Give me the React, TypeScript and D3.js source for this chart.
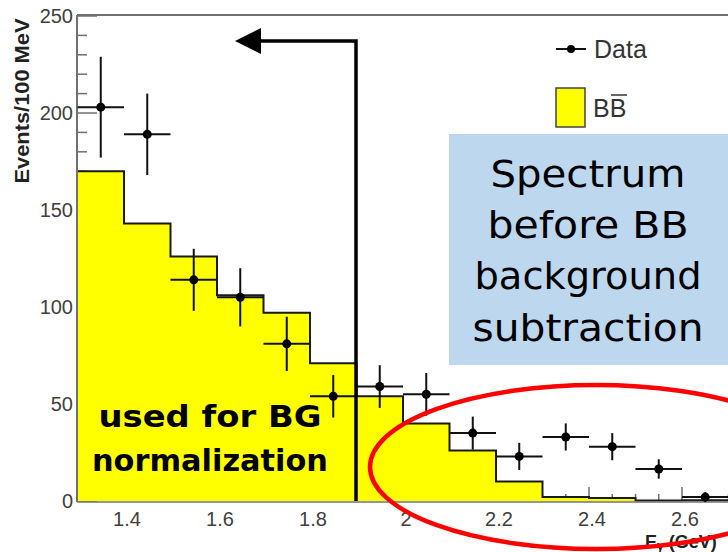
import React from "react";
import * as d3 from "d3";

const binEdges = [1.3, 1.4, 1.5, 1.6, 1.7, 1.8, 1.9, 2.0, 2.1, 2.2, 2.3, 2.4, 2.5, 2.6, 2.7];
const bbValues = [170, 143, 126, 106, 97, 71, 54, 40, 26, 10, 2, 1.5, 0.3, 0.4];

const dataX = [1.35, 1.45, 1.55, 1.65, 1.75, 1.85, 1.95, 2.05, 2.15, 2.25, 2.35, 2.45, 2.55, 2.65];
const dataY = [203, 189, 114, 105, 81, 54, 59, 55, 35, 23, 33, 28, 16.5, 2];
const dataErr = [26, 21, 16, 15, 14, 11, 11, 11, 8.5, 7, 7, 7, 5, 2.5];
const dataXErr = 0.05;

const xTickLabels = [1.4, 1.6, 1.8, 2.0, 2.2, 2.4, 2.6];
const yTickLabels = [0, 50, 100, 150, 200, 250];

const boxLines = ["Spectrum", "before BB", "background", "subtraction"];
const normLines = ["used for BG", "normalization"];

const W = 728;
const H = 552;

export default function App() {
  const x = d3.scaleLinear().domain([1.3, 2.7]).range([77.5, 728.5]);
  const y = d3.scaleLinear().domain([0, 250]).range([501, 16]);

  const pts: [number, number][] = binEdges.map((e, i) => [e, bbValues[Math.min(i, bbValues.length - 1)]]);
  const area = d3
    .area<[number, number]>()
    .x((d) => x(d[0]))
    .y0(y(0))
    .y1((d) => y(d[1]))
    .curve(d3.curveStepAfter);
  const line = d3
    .line<[number, number]>()
    .x((d) => x(d[0]))
    .y((d) => y(d[1]))
    .curve(d3.curveStepAfter);

  const xMinor = x.ticks(28);
  const yMinor = y.ticks(25);
  const fmt = d3.format("~g");
  const axisCol = "#707070";
  const textCol = "#404040";

  const boxWidths = [195, 201, 227, 231];
  const boxBase = [187, 238, 289, 341];
  const normWidths = [223, 236];
  const normBase = [427, 471];

  const arrowX = 356;
  const arrowY = 41;

  return (
    <svg width={W} height={H} style={{ position: "absolute", left: 0, top: 0, background: "#fff" }}>
      <rect x={0} y={0} width={W} height={H} fill="#fff" />
      {xMinor.map((t, i) => {
        const major = xTickLabels.some((m) => Math.abs(m - t) < 1e-6);
        return (
          <line key={"xm" + i} x1={x(t)} x2={x(t)} y1={y(0)} y2={y(0) - (major ? 14 : 7)} stroke={axisCol} strokeWidth={1.5} />
        );
      })}
      {yMinor.map((t, i) => {
        const major = yTickLabels.includes(t);
        return (
          <line key={"ym" + i} x1={77} x2={77 + (major ? 20 : 10)} y1={y(t)} y2={y(t)} stroke={axisCol} strokeWidth={1.5} />
        );
      })}
      <path d={area(pts) || ""} fill="#ffff00" />
      <path d={line(pts) || ""} fill="none" stroke="#1a1a1a" strokeWidth={2} />
      <line x1={77} x2={W} y1={15} y2={15} stroke={axisCol} strokeWidth={2} />
      <line x1={77} x2={77} y1={15} y2={y(0) + 1} stroke={axisCol} strokeWidth={2} />
      <line x1={77} x2={W} y1={y(0) + 1} y2={y(0) + 1} stroke={axisCol} strokeWidth={1.5} />
      {yTickLabels.map((t) => (
        <text key={"yl" + t} x={73} y={y(t) + 7} textAnchor="end" fontFamily="Liberation Sans, Arial, sans-serif" fontSize={20} fill={textCol}>
          {t}
        </text>
      ))}
      {xTickLabels.map((t) => (
        <text key={"xl" + t} x={x(t) + 3} y={526} textAnchor="middle" fontFamily="Liberation Sans, Arial, sans-serif" fontSize={20} fill={textCol}>
          {fmt(t)}
        </text>
      ))}
      <text
        transform={`translate(29,101) rotate(-90)`}
        textAnchor="middle"
        fontFamily="Liberation Sans, Arial, sans-serif"
        fontWeight="bold"
        fontSize={21}
        fill="#222"
        textLength={165}
        lengthAdjust="spacingAndGlyphs"
      >
        Events/100 MeV
      </text>
      <text x={645} y={548} fontFamily="Liberation Sans, Arial, sans-serif" fontWeight="bold" fontSize={18} fill="#222">
        E
        <tspan fontSize={12} dy={2}>γ</tspan>
        <tspan dy={-2}> (GeV)</tspan>
      </text>
      {dataX.map((dx, i) => (
        <g key={"d" + i} stroke="#111" strokeWidth={2}>
          <line x1={x(dx - dataXErr)} x2={x(dx + dataXErr)} y1={y(dataY[i])} y2={y(dataY[i])} />
          <line x1={x(dx)} x2={x(dx)} y1={y(dataY[i] - dataErr[i])} y2={y(dataY[i] + dataErr[i])} />
          <circle cx={x(dx)} cy={y(dataY[i])} r={4.5} fill="#000" stroke="none" />
        </g>
      ))}
      <path d={`M${arrowX},${y(0)} L${arrowX},${arrowY} L258,${arrowY}`} fill="none" stroke="#000" strokeWidth={3.5} />
      <path d={`M235,${arrowY} L261,${arrowY - 13} L261,${arrowY + 13} Z`} fill="#000" />
      <line x1={556} x2={586} y1={49} y2={49} stroke="#111" strokeWidth={2} />
      <circle cx={571} cy={49} r={4} fill="#000" />
      <text x={594} y={58} fontFamily="Liberation Sans, Arial, sans-serif" fontSize={25} fill="#333">
        Data
      </text>
      <rect x={556} y={88} width={29} height={39} fill="#ffff00" stroke="#444" strokeWidth={1.5} />
      <text x={593} y={117} fontFamily="Liberation Sans, Arial, sans-serif" fontSize={25} fill="#333">
        BB
      </text>
      <line x1={611} x2={627} y1={95} y2={95} stroke="#333" strokeWidth={1.5} />
      <rect x={449} y={134} width={W - 449} height={231} fill="#bdd7ee" />
      {boxLines.map((s, i) => (
        <text
          key={"bl" + i}
          x={588}
          y={boxBase[i]}
          textAnchor="middle"
          fontFamily="DejaVu Sans, sans-serif"
          fontSize={38}
          fill="#000"
          textLength={boxWidths[i]}
          lengthAdjust="spacingAndGlyphs"
        >
          {s}
        </text>
      ))}
      {normLines.map((s, i) => (
        <text
          key={"nl" + i}
          x={210}
          y={normBase[i]}
          textAnchor="middle"
          fontFamily="DejaVu Sans, sans-serif"
          fontWeight="bold"
          fontSize={31}
          fill="#000"
          textLength={normWidths[i]}
          lengthAdjust="spacingAndGlyphs"
        >
          {s}
        </text>
      ))}
      <ellipse cx={596} cy={467} rx={226} ry={82} fill="none" stroke="#ff0000" strokeWidth={4.5} />
    </svg>
  );
}
